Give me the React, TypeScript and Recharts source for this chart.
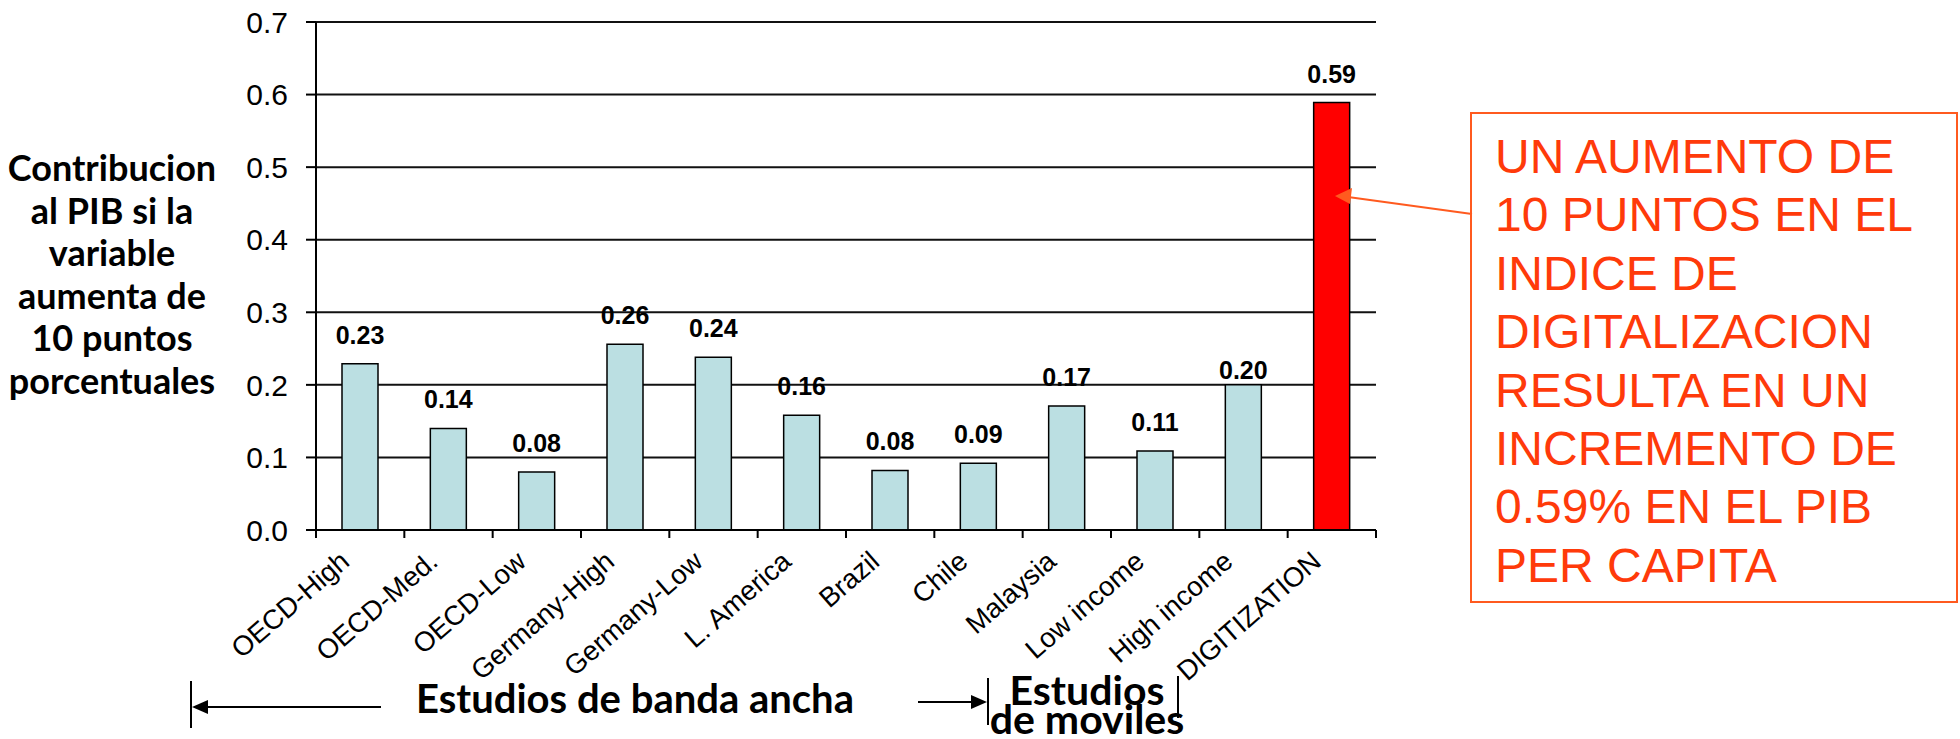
import React from 'react';
import { BarChart, Bar, XAxis, YAxis, CartesianGrid, Cell, LabelList } from 'recharts';

const categories = [
  'OECD-High', 'OECD-Med.', 'OECD-Low', 'Germany-High', 'Germany-Low', 'L. America',
  'Brazil', 'Chile', 'Malaysia', 'Low income', 'High income', 'DIGITIZATION',
];
const values = [0.229, 0.14, 0.08, 0.256, 0.238, 0.158, 0.082, 0.092, 0.171, 0.109, 0.2, 0.589];
const yTicks = [0, 0.1, 0.2, 0.3, 0.4, 0.5, 0.6, 0.7];
const highlight = 'DIGITIZATION';
const tightLabel = 'High income';
const yTitleLines = ['Contribucion', 'al PIB si la', 'variable', 'aumenta de', '10 puntos', 'porcentuales'];
const noteLines = [
  'UN AUMENTO DE', '10 PUNTOS EN EL', 'INDICE DE', 'DIGITALIZACION',
  'RESULTA EN UN', 'INCREMENTO DE', '0.59% EN EL PIB', 'PER CAPITA',
];
const groupBroadband = 'Estudios de banda ancha';
const groupMobile = ['Estudios', 'de moviles'];

const data = categories.map((name, i) => ({ name, value: values[i] }));

const W = 1960;
const H = 739;
const MARGIN = { top: 22, right: 584, bottom: 149, left: 216 };
const Y_W = 100;
const X_H = 60;
const PLOT_W = W - MARGIN.left - Y_W - MARGIN.right;
const BAND = PLOT_W / categories.length;

const SANS = '"Liberation Sans", Arial, sans-serif';
const BOLD_TITLE = 'Lato, "Open Sans", sans-serif';
const NOTE = '#FF3A0A';
const ARROW = '#FF5A1F';

const XTick = (props: any) => {
  const { x, y, payload, index } = props;
  const half = BAND / 2;
  return (
    <g>
      <line x1={x - half} x2={x - half} y1={y} y2={y + 8} stroke="#000" strokeWidth={2} />
      {index === categories.length - 1 && (
        <line x1={x + half} x2={x + half} y1={y} y2={y + 8} stroke="#000" strokeWidth={2} />
      )}
      <text
        transform={`translate(${x - 9},${y + 34}) rotate(-41)`}
        textAnchor="end"
        fontFamily={SANS}
        fontSize={27.5}
        fill="#000"
      >
        {payload.value}
      </text>
    </g>
  );
};

const renderLabel = (props: any) => {
  const { x, y, width, value, index } = props;
  const name = categories[index];
  const off = name === tightLabel ? 6 : 20;
  return (
    <text
      x={Number(x) + Number(width) / 2}
      y={Number(y) - off}
      textAnchor="middle"
      fontFamily={SANS}
      fontWeight="bold"
      fontSize={25}
      fill="#000"
    >
      {Number(value).toFixed(2)}
    </text>
  );
};

export default function App() {
  return (
    <div style={{ position: 'absolute', left: 0, top: 0, width: W, height: H, background: '#fff' }}>
      <BarChart width={W} height={H} data={data} margin={MARGIN} barSize={36}>
        <CartesianGrid horizontal vertical={false} stroke="#111" strokeWidth={2} />
        <XAxis
          dataKey="name"
          interval={0}
          height={X_H}
          tickSize={0}
          tickMargin={0}
          tickLine={false}
          axisLine={{ stroke: '#000', strokeWidth: 2 }}
          tick={<XTick />}
        />
        <YAxis
          width={Y_W}
          domain={[0, 0.7]}
          ticks={yTicks}
          tickFormatter={(v: number) => v.toFixed(1)}
          tickSize={10}
          tickMargin={18}
          axisLine={{ stroke: '#000', strokeWidth: 2 }}
          tickLine={{ stroke: '#000', strokeWidth: 2 }}
          tick={{ fontFamily: SANS, fontSize: 30, fill: '#000' }}
        />
        <YAxis
          yAxisId="r"
          orientation="right"
          width={0}
          domain={[0, 0.7]}
          tick={false}
          tickLine={false}
          axisLine={{ stroke: '#000', strokeWidth: 2 }}
        />
        <Bar dataKey="value" isAnimationActive={false} stroke="#000" strokeWidth={1.5}>
          {data.map((d) => (
            <Cell key={d.name} fill={d.name === highlight ? '#FF0000' : '#BBDFE2'} />
          ))}
          <LabelList dataKey="value" content={renderLabel} />
        </Bar>
      </BarChart>
      <svg
        width={W}
        height={H}
        style={{ position: 'absolute', left: 0, top: 0, pointerEvents: 'none' }}
      >
        {yTitleLines.map((t, i) => (
          <text
            key={t}
            x={112}
            y={181 + i * 42.6}
            textAnchor="middle"
            fontFamily={BOLD_TITLE}
            fontWeight="bold"
            fontSize={36}
            fill="#000"
          >
            {t}
          </text>
        ))}

        <rect x={1471} y={113} width={486} height={489} fill="#fff" stroke={ARROW} strokeWidth={2} />
        {noteLines.map((t, i) => (
          <text key={t} x={1495} y={173 + i * 58.4} fontFamily={SANS} fontSize={48} fill={NOTE}>
            {t}
          </text>
        ))}
        <line x1={1472} y1={214} x2={1348} y2={197} stroke={ARROW} strokeWidth={2} />
        <polygon points="1335,196 1352,188 1350,204" fill={ARROW} />

        <line x1={191} y1={681} x2={191} y2={728} stroke="#000" strokeWidth={2} />
        <line x1={205} y1={707} x2={381} y2={707} stroke="#000" strokeWidth={2} />
        <polygon points="192,707 208,700 208,714" fill="#000" />
        <text x={635} y={713} textAnchor="middle" fontFamily={BOLD_TITLE} fontWeight="bold" fontSize={40} fill="#000">
          {groupBroadband}
        </text>

        <line x1={918} y1={702} x2={974} y2={702} stroke="#000" strokeWidth={2} />
        <polygon points="987,702 971,695 971,709" fill="#000" />
        <line x1={988} y1={678} x2={988} y2={725} stroke="#000" strokeWidth={2} />
        <line x1={1178} y1={676} x2={1178} y2={718} stroke="#000" strokeWidth={2} />
        <text x={1087} y={705} textAnchor="middle" fontFamily={BOLD_TITLE} fontWeight="bold" fontSize={41} fill="#000">
          {groupMobile[0]}
        </text>
        <text x={1087} y={734} textAnchor="middle" fontFamily={BOLD_TITLE} fontWeight="bold" fontSize={41} fill="#000">
          {groupMobile[1]}
        </text>
      </svg>
    </div>
  );
}
